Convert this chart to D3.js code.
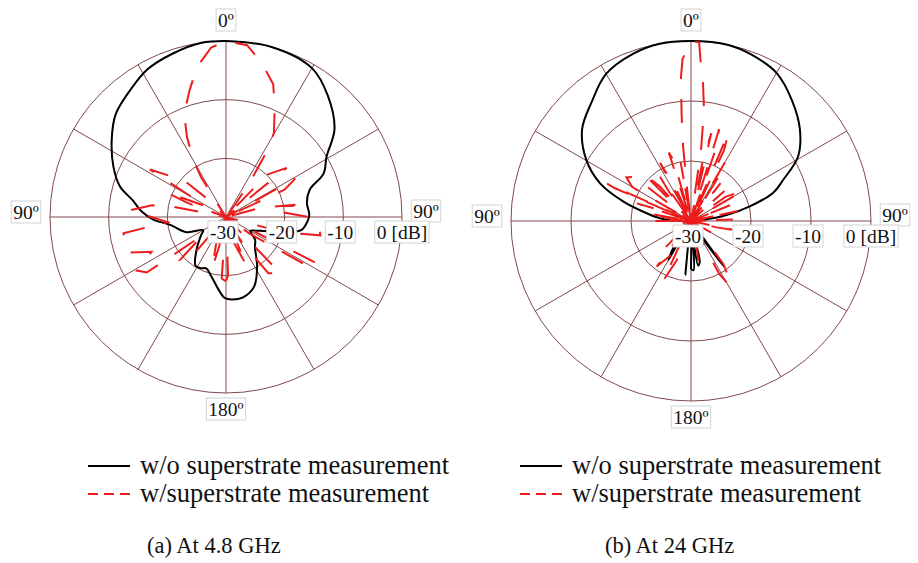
<!DOCTYPE html>
<html>
<head>
<meta charset="utf-8">
<script src="https://cdn.jsdelivr.net/npm/d3@7"></script>
<style>
  body { margin: 0; background: #fff; }
  text { font-family: "Liberation Serif", "Times New Roman", serif; }
</style>
</head>
<body>
<svg id="chart" width="918" height="563"></svg>
<script>
// grid ticks
const angleTicks = d3.range(0, 360, 30);
const dbTicks = [-30, -20, -10, 0];
const dbLabels = ['-30', '-20', '-10', '0 [dB]'];

// [angle deg, gain dB] — 4.8 GHz
const woSup48 = [
    [0, 0], [15, 0], [30, -0.7], [40, -3], [51, -6.2], [59, -10], [66, -11.8], [72, -15],
    [80, -16], [88, -15.8], [92, -16], [100, -17], [105, -20.5], [110, -23], [115, -24.5],
    [120, -25.2], [128, -23.7], [136, -22.9], [148, -20], [158, -17.2], [168, -16], [176, -15.9],
    [181, -16.2], [186, -17.6], [194, -19.6], [201, -20.6], [206, -20.3], [212, -20.2],
    [222, -22.5], [233, -24.6], [240, -25.5], [249, -22.8], [262, -20.4], [268, -17.6],
    [274, -15.5], [280, -13.9], [286, -11.2], [294, -9], [304, -6.5], [313, -4.3], [323, -2.9],
    [332, -1.5], [342, -0.7], [352, 0], [360, 0]
];
const wSup48 = [
    [-180, -19], [-176, -19.5], [-171, -30], [-167, -25], [-165, -21], [-160, -25], [-155, -33],
    [-149, -24], [-145, -30], [-139, -20.6], [-133, -19.3], [-128, -25], [-125, -13.5], [-121, -12.3],
    [-115, -16], [-110, -12.3], [-99, -12.3], [-95, -20], [-86, -13.6], [-81, -17.2], [-79, -21],
    [-75, -30], [-70, -23], [-67.5, -19], [-62, -26], [-58, -14.7], [-54, -18], [-49, -20.4],
    [-45, -26], [-40, -31], [-34, -30], [-33, -27], [-32, -22], [-30, -19], [-26, -14.8],
    [-22, -11], [-16, -7.5], [-11, -4], [-5, -1], [0, 0], [7, -0.5], [13, -3], [19.6, -6],
    [24, -9.6], [29.7, -13.5], [32, -17], [34, -22], [36, -27], [38, -32], [44, -20], [51, -16.7],
    [55, -33], [61, -16.5], [65, -19], [70, -31], [75, -24], [80, -18], [84, -21], [90, -16],
    [97, -14], [101, -13.6], [105, -20], [110, -31], [117, -12.3], [121, -14.3], [125, -25],
    [130, -31], [136, -16.7], [143, -18], [148, -25], [152, -31], [157, -21], [162, -25],
    [167, -27], [172, -31], [178, -20], [180, -19]
];

// 24 GHz
const woSup24 = [
    [-180, -22], [-176, -30], [-174, -21], [-171, -29], [-155, -33], [-150, -22.5], [-146, -25],
    [-143, -31], [-120, -34], [-100, -33], [-92, -33], [-89, -27], [-85, -24.8], [-79, -21.9],
    [-74, -18.3], [-67.5, -13.6], [-60, -9.9], [-50, -6.3], [-40, -4.2], [-30, -1.7], [-19, -0.5],
    [-10, 0], [0, 0], [12, 0], [20, -0.5], [30, -1.5], [40, -3.8], [50, -6.3], [59, -9.2],
    [66, -13.2], [71, -15.5], [76, -19.9], [80.5, -24], [85, -28], [90, -33], [120, -34],
    [138, -31], [144, -20.3], [147, -27], [160, -31], [168, -23], [171, -22.5], [174, -28],
    [177, -21.8], [180, -22]
];
const wSup24 = [
    [-180, -33], [-170, -26], [-166, -31], [-160, -23], [-155, -19], [-152, -32], [-151, -23.8],
    [-143, -20.5], [-140, -31], [-136, -24], [-133, -32], [-120, -33], [-105, -28], [-95, -33],
    [-90, -23], [-88, -33], [-83, -26.5], [-80, -22.5], [-77, -33], [-72, -20.5], [-70.5, -24.5],
    [-68, -33], [-66.7, -16.2], [-66, -14.7], [-63, -33], [-60, -18.7], [-56, -17], [-52, -18],
    [-50, -33], [-45, -18.8], [-42, -22.3], [-39, -33], [-37, -24], [-35, -21], [-32, -33],
    [-28, -19], [-25, -24], [-22, -33], [-18, -18], [-16, -19.4], [-13, -33], [-10, -20],
    [-8, -32], [-7, -25], [-6, -17], [-5, -12], [-4, -6], [-3, -3], [0, 0], [2.6, -0.2],
    [3.5, -3.5], [5, -7], [6.7, -11.4], [8, -18], [10, -33], [11, -19.7], [13, -15], [15, -30],
    [17, -14], [19, -17], [21, -31], [23, -14], [25, -17], [28, -32], [30, -18.5], [32, -20],
    [35, -32], [38, -22], [42, -33], [48, -22.5], [52, -31], [55, -23], [60, -20], [63, -33],
    [68, -23], [72, -30], [78, -22], [82, -33], [88, -23], [92, -33], [102, -23], [104, -25.6],
    [108, -33], [120, -26], [125, -33], [140, -28], [143, -21], [147, -18], [149, -17.3],
    [152, -20], [155, -33], [165, -27], [170, -22.5], [173, -33], [180, -33]
];

const legendLabels = ['w/o superstrate measurement', 'w/superstrate measurement'];
const captions = ['(a) At 4.8 GHz', '(b) At 24 GHz'];

const svg = d3.select('#chart');
svg.append('rect').attr('width', 918).attr('height', 563).attr('fill', '#fff');

const gridColor = '#82484a';
const red = '#ee1c1c';

function boxedLabel(g, x, y, txt) {
    const lab = g.append('g');
    const t = lab.append('text')
        .attr('x', x).attr('y', y)
        .attr('text-anchor', 'middle')
        .attr('dominant-baseline', 'central')
        .style('font-size', '19.5px')
        .style('fill', '#111')
        .text(txt);
    const bb = t.node().getBBox();
    lab.insert('rect', 'text')
        .attr('x', bb.x - 2).attr('y', y - 11)
        .attr('width', bb.width + 4).attr('height', 22)
        .attr('fill', '#fff')
        .attr('stroke', '#d4d4d4')
        .attr('stroke-width', 1);
}

function renderPolar(cx, cy, R, solid, dashed) {
    const g = svg.append('g').attr('transform', `translate(${cx},${cy})`);
    const r = d3.scaleLinear().domain([-30, 0]).range([0, R]).clamp(true);

    // grid
    dbTicks.filter(d => d > -30).forEach(d => {
        g.append('circle').attr('r', r(d))
            .attr('fill', 'none').attr('stroke', gridColor).attr('stroke-width', 1);
    });
    angleTicks.forEach(a => {
        const rad = a * Math.PI / 180;
        g.append('line')
            .attr('x1', 0).attr('y1', 0)
            .attr('x2', R * Math.sin(rad)).attr('y2', -R * Math.cos(rad))
            .attr('stroke', gridColor).attr('stroke-width', 1);
    });

    const line = d3.lineRadial()
        .angle(d => d[0] * Math.PI / 180)
        .radius(d => r(d[1]));

    g.append('path')
        .datum(solid)
        .attr('d', line.curve(d3.curveCatmullRom.alpha(0.5)))
        .attr('fill', 'none')
        .attr('stroke', '#000')
        .attr('stroke-width', 2);

    g.append('path')
        .datum(dashed)
        .attr('d', line.curve(d3.curveLinear))
        .attr('fill', 'none')
        .attr('stroke', red)
        .attr('stroke-width', 2)
        .attr('stroke-dasharray', '24,20');

    // labels on top
    boxedLabel(g, 0, -R - 21, '0º');
    boxedLabel(g, 0, R + 16, '180º');
    boxedLabel(g, -R - 24, -5, '90º');
    boxedLabel(g, R + 24, -6, '90º');
    dbTicks.forEach((d, i) => {
        const x = d === 0 ? r(d) : r(d) - 3;
        boxedLabel(g, x, 15, dbLabels[i]);
    });
}

renderPolar(226, 217, 176, woSup48, wSup48);
renderPolar(691, 221, 180, woSup24, wSup24);

// legends
[88, 520].forEach((lx, k) => {
    const lg = svg.append('g');
    lg.append('line').attr('x1', lx).attr('x2', lx + 42).attr('y1', 466).attr('y2', 466)
        .attr('stroke', '#000').attr('stroke-width', 2);
    lg.append('line').attr('x1', lx).attr('x2', lx + 42).attr('y1', 494).attr('y2', 494)
        .attr('stroke', red).attr('stroke-width', 2).attr('stroke-dasharray', '10,6');
    legendLabels.forEach((s, i) => {
        lg.append('text')
            .attr('x', lx + 52).attr('y', 474 + i * 28)
            .style('font-size', '26.5px')
            .style('fill', '#111')
            .text(s);
    });
    svg.append('text')
        .attr('x', k === 0 ? 147 : 605).attr('y', 553)
        .style('font-size', '22.5px')
        .style('fill', '#111')
        .text(captions[k]);
});
</script>
</body>
</html>
